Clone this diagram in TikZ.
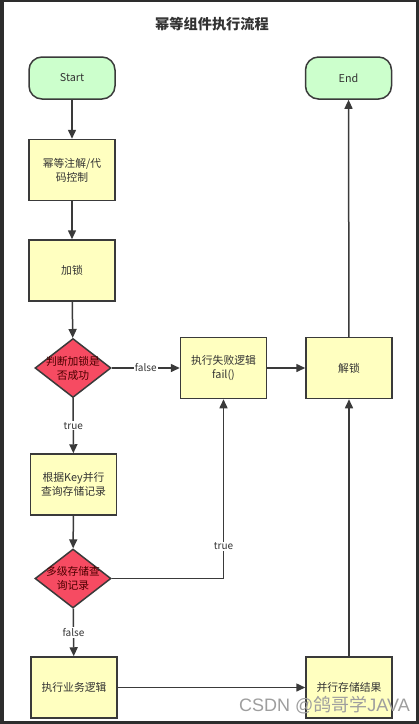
\documentclass[tikz,border=0pt]{standalone}
\usepackage{fontspec}
\setmainfont{Noto Sans CJK SC}
\newfontfamily\wmfont{Liberation Sans}
\usetikzlibrary{positioning, arrows.meta, shapes.geometric}
\definecolor{framebg}{HTML}{2D2D2D}
\definecolor{linegray}{HTML}{3A3A3A}
\definecolor{textgray}{HTML}{333333}
\definecolor{termgreen}{HTML}{CCFFCC}
\definecolor{boxyellow}{HTML}{FFFFC0}
\definecolor{diamondred}{HTML}{F64B62}
\tikzset{
  block/.style={
    draw=linegray,
    line width=1.5pt,
    rectangle,
    minimum width=86pt,
    minimum height=61pt,
    align=center,
    inner sep=2pt,
    fill=boxyellow,
    text=textgray,
    font=\fontsize{10.8}{14}\selectfont
  },
  terminal/.style={
    block,
    rounded corners=13pt,
    minimum height=42pt,
    fill=termgreen
  },
  decision/.style={
    draw=linegray,
    line width=1.5pt,
    diamond,
    inner sep=0pt,
    minimum width=76pt,
    minimum height=59pt,
    fill=diamondred
  },
  decisiontext/.style={
    align=center,
    inner sep=0pt,
    text=black!70!red,
    font=\fontsize{10.8}{14}\selectfont
  },
  flow/.style={
    draw=linegray,
    line width=1.5pt,
    -{Triangle[length=9pt,width=8pt]}
  },
  edgelabel/.style={
    fill=white,
    text=textgray,
    inner sep=1pt,
    font=\fontsize{10}{12}\selectfont
  }
}
\begin{document}
\begin{tikzpicture}[x=1pt, y=-1pt]
        \fill[framebg] (0,0) rectangle (419,724);
        \fill[white] (4,2) rectangle (416,721);
        \node[text=textgray, font=\fontsize{14.2}{17}\selectfont\bfseries] (title) at (212,24) {幂等组件执行流程};

        \node[terminal] (start) at (72,78) {Start};
        \node[terminal] (end) at (348.5,78) {End};
        \node[block] (annot) at (72,170) {幂等注解/代\\码控制};
        \node[block, below=38pt of annot] (lock) {加锁};
        \node[decision, label={[decisiontext]center:判断加锁是\\否成功}] (locked) at (73,368) {};
        \node[block] (fail) at (223.5,368) {执行失败逻辑\\fail()};
        \node[block] (unlock) at (349,368) {解锁};
        \node[block] (query) at (73.5,484.5) {根据Key并行\\查询存储记录};
        \node[decision, label={[decisiontext]center:多级存储查\\询记录}] (found) at (73,578.5) {};
        \node[block] (biz) at (74,687.5) {执行业务逻辑};
        \node[block] (store) at (349,687.5) {并行存储结果};

        \draw[flow] (start) -- (annot);
        \draw[flow] (annot) -- (lock);
        \draw[flow] (lock) -- (locked);
        \draw[flow] (locked) -- node[edgelabel] {false} (fail);
        \draw[flow] (locked) -- node[edgelabel] {true} (query);
        \draw[flow] (fail) -- (unlock);
        \draw[flow] (query) -- (found);
        \draw[flow] (found.east) -| node[edgelabel, pos=0.59] {true} (fail.south);
        \draw[flow] (found) -- node[edgelabel] {false} (biz);
        \draw[flow] (biz) -- (store);
        \draw[flow] (store) -- (unlock);
        \draw[flow] (unlock) -- (end);

        \node[text=black!38, font=\fontsize{18}{20}\selectfont\wmfont] (mark) at (324.5,705) {CSDN @{\rmfamily 鸽哥学}JAVA};
      \end{tikzpicture}
\end{document}
